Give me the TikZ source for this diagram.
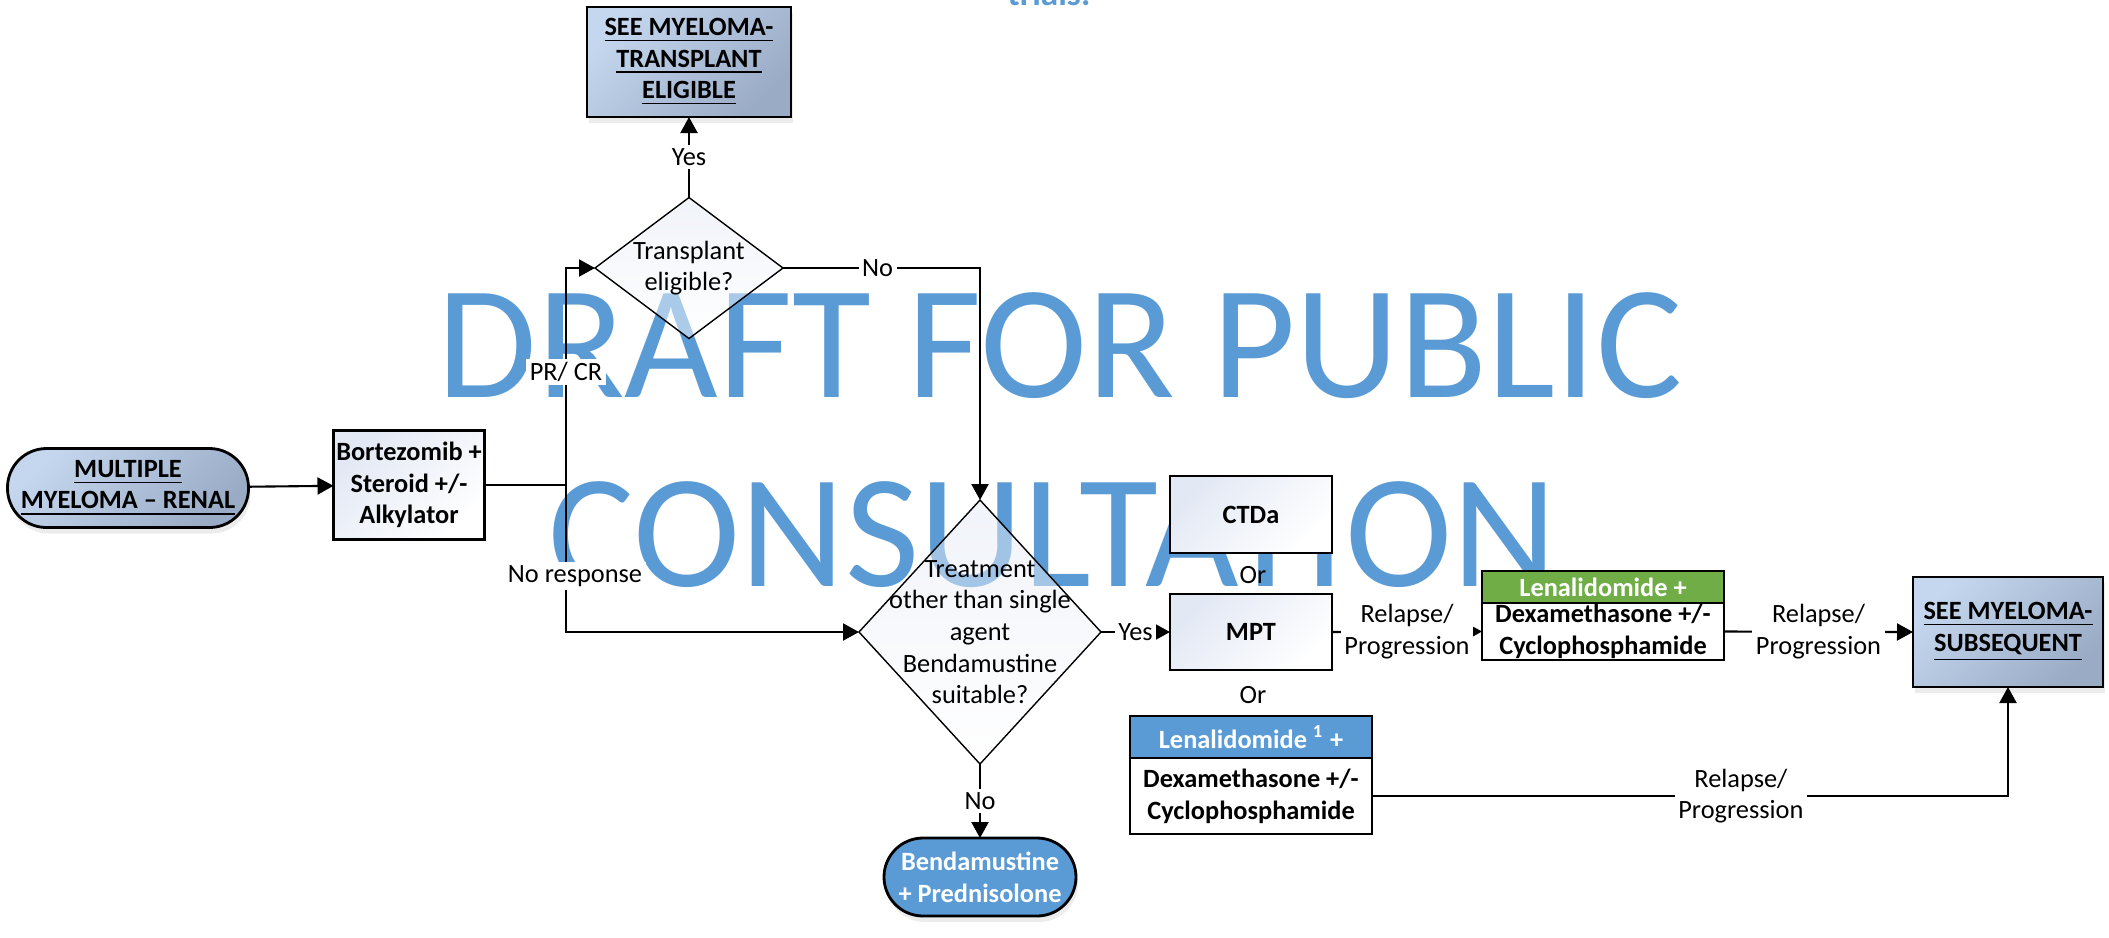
\documentclass[tikz,border=0pt]{standalone}
\usepackage{fontspec}
\setmainfont{Carlito}
\usetikzlibrary{shapes.geometric,arrows.meta,shadows,positioning}
\definecolor{wmblue}{HTML}{5B9BD5}
\definecolor{lenagreen}{HTML}{70AD47}
\definecolor{seelight}{HTML}{C5D7EE}
\definecolor{seedark}{HTML}{9AABC6}
\definecolor{boxtint}{HTML}{E2E8F4}

\begin{document}
\begin{tikzpicture}[
txt/.style={font=\fontsize{7.5}{9}\selectfont, align=center, inner sep=0pt, outer sep=0pt},
bold/.style={txt, font=\fontsize{7.5}{9}\selectfont\bfseries},
procbox/.style={bold, draw, line width=0.6pt, top color=boxtint, bottom color=white, shading angle=45},
seebox/.style={bold, draw, line width=0.8pt, top color=seelight, bottom color=seedark, shading angle=45,
  drop shadow={opacity=0.15, shadow xshift=0.2mm, shadow yshift=-0.6mm}},
startterm/.style={seebox, rounded corners=3.9mm},
decision/.style={diamond, draw, line width=0.4pt, inner sep=0pt, outer sep=0pt,
  top color=boxtint, bottom color=white, fill opacity=0.5},
medterm/.style={bold, text=white, draw, line width=0.8pt, fill=wmblue, rounded corners=3.9mm,
  drop shadow={opacity=0.15, shadow xshift=0.2mm, shadow yshift=-0.6mm}},
headbox/.style={bold, text=white, draw, line width=0.8pt},
bodybox/.style={bold, draw, line width=0.8pt, fill=white},
lbl/.style={txt, fill=white, inner sep=1pt},
flow/.style={line width=0.6pt, -{Triangle[length=1.6mm, width=1.7mm]}},
link/.style={line width=0.6pt},
watermark/.style={text=wmblue, font=\fontsize{46}{50}\selectfont, inner sep=0pt}]
\useasboundingbox (0,0) rectangle (21.09,-9.37);

% draft watermark behind the chart
\node[text=wmblue, font=\fontsize{10}{12}\selectfont\bfseries, anchor=base] (trials) at (10.49,-0.05) {trials.};
\node[watermark, anchor=base] (wmtop) at (10.60,-3.97) {DRAFT FOR PUBLIC};
\node[watermark, anchor=base] (wmbot) at (10.53,-5.86) {CONSULTATION};

\node[startterm, minimum width=2.41cm, minimum height=0.79cm] (start) at (1.28,-4.88)
  {\underline{MULTIPLE}\\\underline{MYELOMA – RENAL}};
\node[procbox, minimum width=1.51cm, minimum height=1.09cm] (bort) at (4.09,-4.85)
  {Bortezomib +\\Steroid +/-\\Alkylator};
\node[decision, minimum width=1.88cm, minimum height=1.41cm,
  label={[txt]center:Transplant\\eligible?}] (trans) at (6.89,-2.68) {};
\node[seebox, minimum width=2.04cm, minimum height=1.10cm] (seetx) at (6.89,-0.62)
  {\underline{SEE MYELOMA-}\\\underline{TRANSPLANT}\\\underline{ELIGIBLE}};
\node[decision, minimum width=2.42cm, minimum height=2.64cm,
  label={[txt]center:Treatment\\other than single\\agent\\Bendamustine\\suitable?}] (treat) at (9.80,-6.32) {};
\node[medterm, minimum width=1.92cm, minimum height=0.78cm] (benda) at (9.80,-8.77)
  {Bendamustine\\+ Prednisolone};

\node[procbox, minimum width=1.62cm, minimum height=0.77cm] (ctda) at (12.51,-5.145) {CTDa};
\node[procbox, minimum width=1.62cm, minimum height=0.76cm] (mpt) at (12.51,-6.32) {MPT};
\node[txt] (or1) at (12.53,-5.75) {Or};
\node[txt] (or2) at (12.53,-6.95) {Or};

\node[headbox, fill=wmblue, minimum width=2.42cm, minimum height=0.42cm] (lenahead) at (12.51,-7.37)
  {Lenalidomide \textsuperscript{1} +};
\node[bodybox, minimum width=2.42cm, minimum height=0.76cm, anchor=north] (lenabody) at (lenahead.south)
  {Dexamethasone +/-\\Cyclophosphamide};
\node[headbox, fill=lenagreen, minimum width=2.42cm, minimum height=0.32cm] (greenhead) at (16.03,-5.87)
  {Lenalidomide +};
\node[bodybox, minimum width=2.42cm, minimum height=0.57cm, anchor=north] (greenbody) at (greenhead.south)
  {Dexamethasone +/-\\Cyclophosphamide};
\node[seebox, minimum width=1.90cm, minimum height=1.10cm] (subseq) at (20.08,-6.32)
  {\underline{SEE MYELOMA-}\\\underline{SUBSEQUENT}};

\coordinate (split) at (5.66,-4.85);
\draw[flow] (start) -- (bort);
\draw[link] (bort.east) -- (split);
\draw[flow] (split) |- node[lbl, pos=0.26] {PR/ CR} (trans.west);
\draw[flow] (split) |- node[lbl, pos=0.31, xshift=0.9mm] {No response} (treat.west);
\draw[flow] (trans.north) -- node[lbl] {Yes} (seetx.south);
\draw[flow] (trans.east) -| node[lbl, pos=0.24] {No} (treat.north);
\draw[flow] (treat.south) -- node[lbl] {No} (benda.north);
\draw[flow] (treat.east) -- node[lbl] {Yes} (mpt.west);
\draw[flow] (mpt.east) -- node[lbl] {Relapse/\\Progression} (greenbody.west);
\draw[flow] (greenbody.east) -- node[lbl] {Relapse/\\Progression} (subseq.west);
\draw[flow] (lenabody.east) -| node[lbl, pos=0.29] {Relapse/\\Progression} (subseq.south);
\end{tikzpicture}
\end{document}
